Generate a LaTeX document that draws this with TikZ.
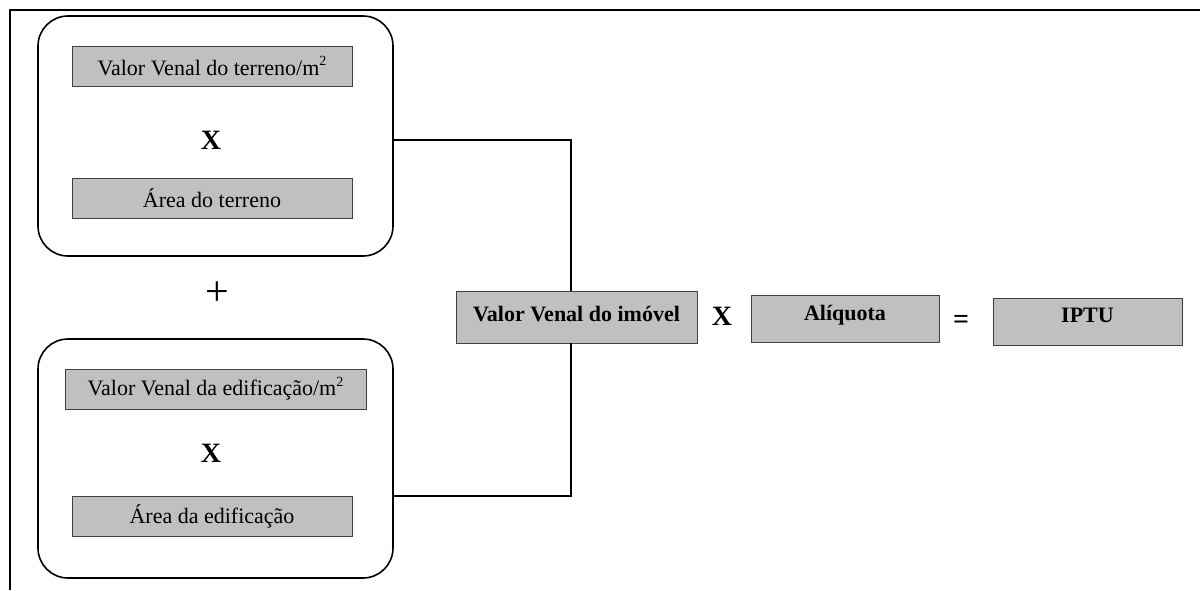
\documentclass[tikz,border=0pt]{standalone}
\usepackage{fontspec}
\setmainfont{Liberation Serif}
\newcommand{\sqm}{m\raisebox{0.42em}{\fontsize{14}{14}\selectfont 2}}
\begin{document}
\begin{tikzpicture}[x=1pt,y=-1pt,
  graybox/.style={draw=black!75,line width=0.8pt,fill={rgb,255:red,192;green,192;blue,192},inner sep=0pt,font=\fontsize{22}{26}\selectfont},
  boldbox/.style={graybox,font=\fontsize{22}{26}\selectfont\bfseries},
  groupbox/.style={draw=black,line width=1.6pt,rounded corners=30pt,inner sep=0pt},
  optext/.style={font=\fontsize{28}{30}\selectfont\bfseries,inner sep=0pt},
  conn/.style={draw=black,line width=1.5pt}]
\useasboundingbox (0,0) rectangle (1200,590);
\draw[line width=2.2pt] (10,590) -- (10,10) -- (1200,10);
% group 1
\node[groupbox,minimum width=355pt,minimum height=240pt] (grp1) at (215.5,136) {};
\node[graybox,minimum width=280pt,minimum height=40pt] (vt) at (212,66) {Valor Venal do terreno/\sqm};
\node[optext] (x1) at (211,140) {X};
\node[graybox,minimum width=280pt,minimum height=40pt] (at) at (212,198) {Área do terreno};
% plus
\node[font=\fontsize{42}{42}\selectfont,inner sep=0pt] (plus) at (217,294) {+};
% group 2
\node[groupbox,minimum width=355pt,minimum height=239pt] (grp2) at (215.5,458.5) {};
\node[graybox,minimum width=301pt,minimum height=40pt] (ve) at (215.5,389) {Valor Venal da edificação/\sqm};
\node[optext] (x2) at (211,453) {X};
\node[graybox,minimum width=280pt,minimum height=40pt] (ae) at (212,516) {Área da edificação};
% right row
\node[boldbox,minimum width=241pt,minimum height=52pt] (vv) at (576.5,317) {\raisebox{7pt}{Valor Venal do imóvel}};
\node[optext] (x3) at (722,316) {X};
\node[boldbox,minimum width=188pt,minimum height=47pt] (aliq) at (845,318.5) {\raisebox{11pt}{Alíquota}};
\node[optext] (eq) at (961,322) {=};
\node[boldbox,minimum width=189pt,minimum height=47pt] (iptu) at (1087.5,321.5) {\raisebox{13pt}{IPTU}};
% connectors
\coordinate (jt) at (571,140);
\coordinate (jb) at (571,496);
\draw[conn] (grp1.east |- jt) -- (jt) -- (jt |- vv.north);
\draw[conn] (jb |- vv.south) -- (jb) -- (grp2.east |- jb);
\end{tikzpicture}
\end{document}
